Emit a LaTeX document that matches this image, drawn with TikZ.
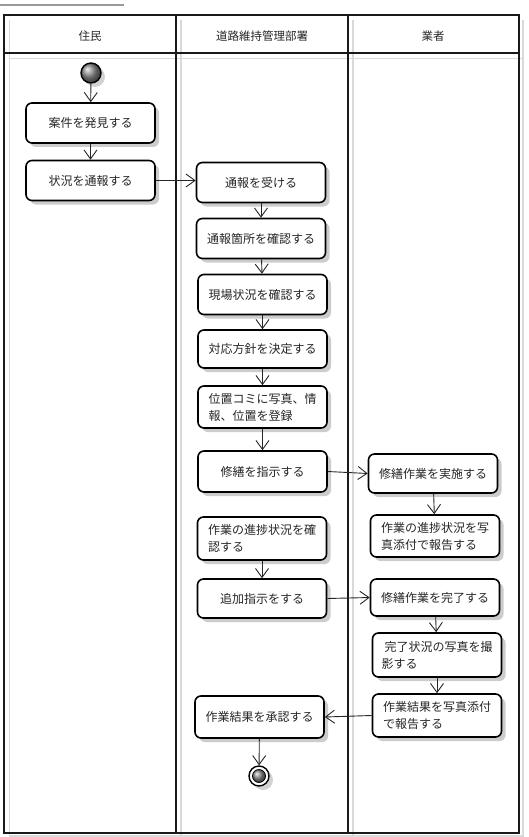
\documentclass[tikz,border=0pt]{standalone}
\usepackage{fontspec}
\setmainfont{Noto Sans CJK JP}
\usetikzlibrary{arrows.meta,shadows}
\begin{document}
\begin{tikzpicture}[x=1pt,y=-1pt,
  act/.style={draw=black, line width=1.6pt, rounded corners=6pt, fill=white,
    minimum width=129pt, minimum height=40pt, inner sep=2pt, align=left,
    font=\fontsize{12}{17}\selectfont, text=black!85,
    drop shadow={shadow xshift=4pt, shadow yshift=-4pt, fill=black!25, opacity=0.8}},
  lanehead/.style={font=\fontsize{11.5}{14}\selectfont, text=black!85},
  arr/.style={-{Straight Barb[length=9pt,width=13pt]}, line width=0.9pt, draw=black!85},
  lane/.style={line width=2pt, draw=black!90},
  laneshade/.style={line width=1.5pt, draw=black!15},
  startnode/.style={circle, draw=black, line width=1.4pt, minimum size=20pt, inner sep=0pt, ball color=black!45,
    drop shadow={shadow xshift=4pt, shadow yshift=-4pt, fill=black!25, opacity=0.7}},
  endouter/.style={circle, draw=black, line width=1.4pt, minimum size=20pt, inner sep=0pt, fill=white,
    drop shadow={shadow xshift=4pt, shadow yshift=-4pt, fill=black!25, opacity=0.7}},
  endinner/.style={circle, draw=black, line width=0.8pt, minimum size=13pt, inner sep=0pt, ball color=black!45}
]
\useasboundingbox (0,0) rectangle (528,837);
% top gray rule
\draw[line width=2pt, draw=black!40] (0,5) -- (124,5);
% lane shading lines
\draw[laneshade] (9.5,20) -- (9.5,837);
\draw[laneshade] (181,20) -- (181,837);
\draw[laneshade] (353,20) -- (353,837);
\draw[laneshade] (523,20) -- (523,837);
\draw[laneshade] (9.5,58.5) -- (523,58.5);
\draw[laneshade] (9.5,836) -- (523,836);
% lanes
\draw[lane] (4,15) rectangle (519,833);
\draw[lane] (4,53) -- (519,53);
\draw[lane] (176,15) -- (176,833);
\draw[lane] (348,15) -- (348,833);
\node[lanehead] (h1) at (90,36) {住民};
\node[lanehead] (h2) at (262,36) {道路維持管理部署};
\node[lanehead] (h3) at (433,36) {業者};

% start
\node[startnode] (start) at (91,73) {};
% activities
\node[act] (n1) at (90.5,123) {案件を発見する};
\node[act] (n2) at (90.5,180.5) {状況を通報する};
\node[act] (n3) at (261,182.5) {通報を受ける};
\node[act] (n4) at (261,238.5) {通報箇所を確認する};
\node[act] (n5) at (262.5,294.5) {現場状況を確認する};
\node[act, minimum height=38pt] (n6) at (262.5,349) {対応方針を決定する};
\node[act, minimum height=42pt] (n7) at (262.5,407) {位置コミに写真、情\\報、位置を登録};
\node[act, minimum height=41pt] (n8) at (262.5,471.5) {修繕を指示する};
\node[act, minimum height=39pt] (n9) at (433,473.5) {修繕作業を実施する};
\node[act, minimum height=42pt] (n10) at (435,536) {作業の進捗状況を写\\真添付で報告する};
\node[act, minimum height=43pt] (n11) at (262,538.5) {作業の進捗状況を確\\認する};
\node[act, minimum height=39pt] (n12) at (262,598.5) {追加指示をする};
\node[act, minimum height=37pt] (n13) at (435,597.5) {修繕作業を完了する};
\node[act, minimum height=44pt] (n14) at (437,655) {\hspace{3pt}完了状況の写真を撮\\影する};
\node[act, minimum height=43pt] (n15) at (437,715.5) {作業結果を写真添付\\で報告する};
\node[act, minimum height=42pt] (n16) at (259.5,717) {作業結果を承認する};
% end
\node[endouter] (endo) at (259,776) {};
\node[endinner] (endi) at (259,776) {};

% connectors
\draw[arr] (start) -- (n1);
\draw[arr] (n1) -- (n2);
\draw[arr] (n2.east) -- (n2.east -| n3.west);
\draw[arr] (n3) -- (n4);
\draw[arr] (n4) -- (n5);
\draw[arr] (n5) -- (n6);
\draw[arr] (n6) -- (n7);
\draw[arr] (n7) -- (n8);
\draw[arr] (n8.east) -- (n9.west);
\draw[arr] (n9) -- (n10);
\draw[arr] (n11) -- (n12);
\draw[arr] (n12.east) -- (n13.west);
\draw[arr] (n13) -- (n14);
\draw[arr] (n14) -- (n15);
\draw[arr] (n15.west) -- (n16.east);
\draw[arr] (n16) -- (endo);
\end{tikzpicture}
\end{document}
